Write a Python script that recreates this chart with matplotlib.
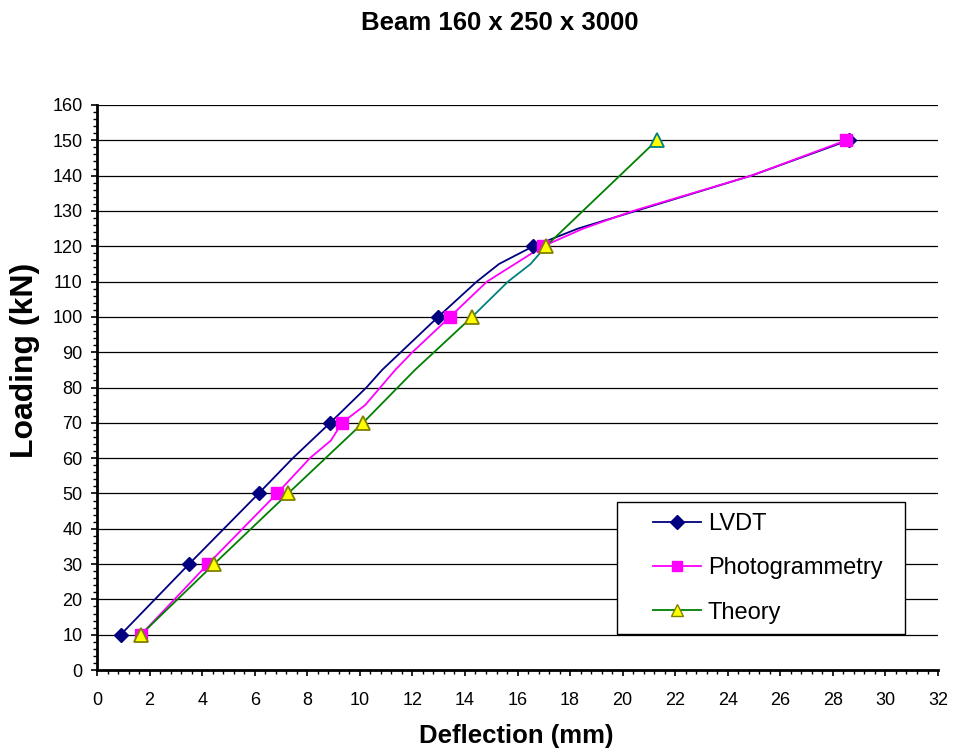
import numpy as np
import matplotlib
matplotlib.use("Agg")
import matplotlib.pyplot as plt
from matplotlib.lines import Line2D
from matplotlib.legend_handler import HandlerLine2D
from matplotlib.ticker import MultipleLocator

plt.rcParams['font.family'] = ['Liberation Sans', 'DejaVu Sans']

# load steps where markers are shown
marked_loads = [10, 30, 50, 70, 100, 120, 150]

# LVDT measurements
load_lvdt = [10, 30, 50, 60, 70, 80, 85, 100, 110, 115, 120, 125, 130, 140, 150]
defl_lvdt = [0.9, 3.5, 6.15, 7.45, 8.87, 10.25, 10.85, 12.98, 14.45, 15.3, 16.6, 18.3, 20.5, 24.9, 28.6]

# Photogrammetry measurements
load_photo = [10, 30, 50, 60, 65, 70, 75, 85, 90, 100, 110, 120, 125, 130, 140, 150]
defl_photo = [1.67, 4.22, 6.85, 8.1, 8.9, 9.32, 10.2, 11.35, 12.0, 13.43, 14.84, 16.97, 18.5, 20.4, 24.9, 28.5]

# Theory
load_theory = [10, 30, 50, 70, 85, 100, 110, 115, 120, 150]
defl_theory = [1.67, 4.45, 7.27, 10.12, 12.1, 14.27, 15.64, 16.5, 17.08, 21.3]

x_ticks = list(range(0, 33, 2))
y_ticks = list(range(0, 161, 10))


def marked(load, defl):
    load = np.array(load)
    defl = np.array(defl)
    m = np.isin(load, marked_loads)
    return defl[m], load[m]


fig = plt.figure(figsize=(9.56, 7.52), dpi=100)
ax = fig.add_axes([0.1015, 0.109, 0.8797, 0.7514])

# horizontal gridlines
for y in y_ticks[1:]:
    ax.axhline(y, color='black', linewidth=0.9, zorder=1)

# LVDT
ax.plot(defl_lvdt, load_lvdt, color='#000080', linewidth=1.3, zorder=3)
mx, my = marked(load_lvdt, defl_lvdt)
ax.plot(mx, my, linestyle='none', marker='D', markersize=7.5,
        color='#000080', zorder=4)

# Photogrammetry
ax.plot(defl_photo, load_photo, color='#FF00FF', linewidth=1.3, zorder=3)
mx, my = marked(load_photo, defl_photo)
ax.plot(mx, my, linestyle='none', marker='s', markersize=8,
        color='#FF00FF', zorder=4)

# Theory (the 100-120 kN segment is teal in the original)
i100 = load_theory.index(100)
i120 = load_theory.index(120)
ax.plot(defl_theory[:i100 + 1], load_theory[:i100 + 1], color='#008000', linewidth=1.3, zorder=3)
ax.plot(defl_theory[i100:i120 + 1], load_theory[i100:i120 + 1], color='#008080', linewidth=1.3, zorder=3)
ax.plot(defl_theory[i120:], load_theory[i120:], color='#008000', linewidth=1.3, zorder=3)
mx, my = marked(load_theory, defl_theory)
ax.plot(mx[:-1], my[:-1], linestyle='none', marker='^', markersize=9.5,
        markerfacecolor='#FFFF00', markeredgecolor='#808000', markeredgewidth=1.3, zorder=5)
ax.plot(mx[-1:], my[-1:], linestyle='none', marker='^', markersize=9.5,
        markerfacecolor='#FFFF00', markeredgecolor='#008080', markeredgewidth=1.3, zorder=5)

ax.set_xlim(0, 32)
ax.set_ylim(0, 160)
ax.set_xticks(x_ticks)
ax.set_yticks(y_ticks)
ax.xaxis.set_minor_locator(MultipleLocator(0.4))
ax.yaxis.set_minor_locator(MultipleLocator(2))
ax.tick_params(which='major', direction='out', length=4.5, width=1.2, labelsize=13)
ax.tick_params(which='minor', direction='out', length=3, width=1.0)
ax.tick_params(axis='x', which='major', pad=11)
ax.tick_params(axis='y', which='major', pad=6)

for s in ['top', 'right']:
    ax.spines[s].set_visible(False)
for s in ['left', 'bottom']:
    ax.spines[s].set_linewidth(2)
    ax.spines[s].set_zorder(6)

fig.text(516 / 956, 1 - 736 / 752, 'Deflection (mm)', fontsize=18.5, fontweight='bold',
         ha='center', va='center')
fig.text(25 / 956, 1 - 360 / 752, 'Loading (kN)', fontsize=23, fontweight='bold',
         ha='center', va='center', rotation=90)
fig.text(500 / 956, 1 - 23 / 752, 'Beam 160 x 250 x 3000', fontsize=18.5, fontweight='bold',
         ha='center', va='center')

handles = [
    Line2D([], [], color='#000080', linewidth=1.3, marker='D', markersize=7),
    Line2D([], [], color='#FF00FF', linewidth=1.3, marker='s', markersize=7.5),
    Line2D([], [], color='#008000', linewidth=1.3, marker='^', markersize=9,
           markerfacecolor='#FFFF00', markeredgecolor='#808000'),
]
leg = ax.legend(handles, ['LVDT', 'Photogrammetry', 'Theory'],
                loc='upper left', bbox_to_anchor=(0.618, 0.06, 0.343, 0.237),
                mode='expand', fontsize=17, frameon=True, fancybox=False, shadow=False,
                edgecolor='black', framealpha=1, borderpad=0.45,
                labelspacing=0.95, handlelength=3.1, handletextpad=0.3,
                borderaxespad=0,
                handler_map={Line2D: HandlerLine2D(xpad=1.1)})
leg.get_frame().set_linewidth(1.0)
leg.set_zorder(10)

plt.savefig('out.png', dpi=100)
